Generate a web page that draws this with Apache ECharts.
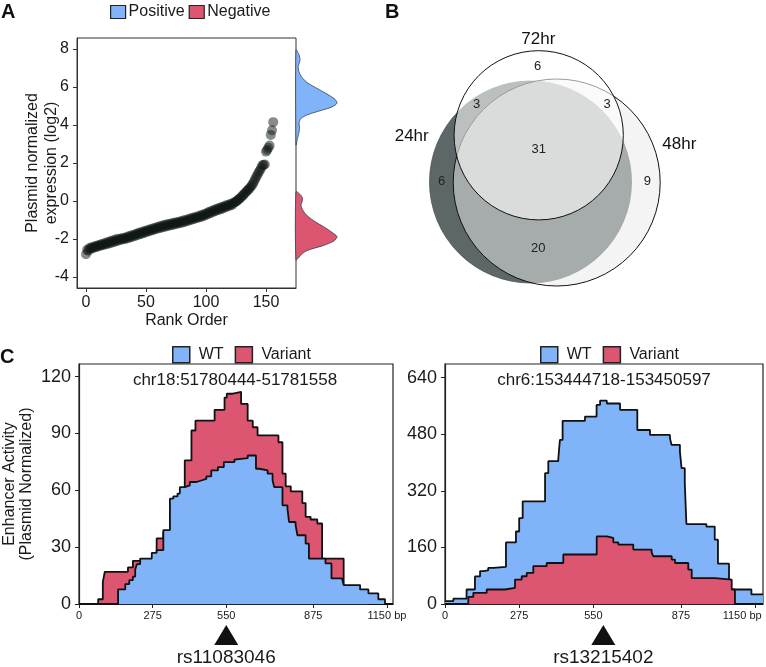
<!DOCTYPE html>
<html><head><meta charset="utf-8">
<script src="https://cdn.jsdelivr.net/npm/echarts@6/dist/echarts.min.js"></script>
<style>html,body{margin:0;padding:0;background:#fff}#c{width:766px;height:667px}</style>
</head><body><div id="c"></div>
<script>
// ---------- DATA ----------
// Panel A: plasmid-normalized expression (log2), in rank order
const rankValues = [
-2.80,-2.56,-2.62,-2.48,-2.52,-2.43,-2.47,-2.39,-2.44,-2.35,
-2.40,-2.31,-2.36,-2.27,-2.33,-2.24,-2.29,-2.19,-2.26,-2.15,
-2.22,-2.11,-2.18,-2.06,-2.14,-2.02,-2.10,-2.00,-2.06,-1.97,
-2.03,-1.95,-2.01,-1.92,-1.97,-1.87,-1.94,-1.83,-1.90,-1.79,
-1.86,-1.75,-1.82,-1.70,-1.77,-1.66,-1.73,-1.62,-1.69,-1.58,
-1.65,-1.54,-1.61,-1.50,-1.57,-1.46,-1.53,-1.42,-1.49,-1.38,
-1.45,-1.34,-1.42,-1.30,-1.38,-1.27,-1.35,-1.24,-1.32,-1.21,
-1.29,-1.18,-1.26,-1.15,-1.23,-1.13,-1.20,-1.10,-1.17,-1.06,
-1.14,-1.03,-1.11,-1.00,-1.07,-0.96,-1.03,-0.92,-0.99,-0.88,
-0.95,-0.85,-0.91,-0.81,-0.87,-0.77,-0.84,-0.73,-0.79,-0.68,
-0.74,-0.62,-0.68,-0.56,-0.63,-0.51,-0.58,-0.46,-0.53,-0.41,
-0.48,-0.37,-0.44,-0.32,-0.39,-0.28,-0.34,-0.23,-0.29,-0.19,
-0.25,-0.15,-0.20,-0.09,-0.07,-0.04,0.02,0.08,0.12,0.18,
0.25,0.31,0.38,0.45,0.52,0.58,0.65,0.72,0.80,0.90,
1.02,1.15,1.28,1.40,1.52,1.62,1.75,1.88,1.90,1.92,
2.60,2.68,2.80,2.92,3.48,3.72,4.15];
const rankTicks = [0, 50, 100, 150];
const exprTicks = [-4, -2, 0, 2, 4, 6, 8];
// marginal densities: [expression, density]
const densityPositive = [[7.95,0],[7.7,3],[7.4,4],[7.1,2.2],[6.8,3],[6.5,6],[6.2,12],[5.9,22],[5.6,32],[5.35,39],[5.15,41],[4.95,36],[4.75,24],[4.55,12],[4.35,5],[4.1,3],[3.9,3.5],[3.6,3],[3.3,1.5],[2.95,0]];
const densityNegative = [[0.49,0],[0.35,4],[0.15,6.5],[-0.05,6],[-0.2,5],[-0.4,6],[-0.65,9],[-0.9,14],[-1.15,21],[-1.4,29],[-1.65,36],[-1.88,41],[-2.1,38],[-2.35,27],[-2.55,14],[-2.7,8],[-2.9,4],[-3.1,0]];

// Panel B: Venn
const vennSets = ['24hr', '48hr', '72hr'];
const vennRegions = ['72hr only', '24hr & 72hr', '48hr & 72hr', '24hr & 48hr & 72hr', '24hr only', '48hr only', '24hr & 48hr'];
const vennCounts = [6, 3, 3, 31, 6, 9, 20];

// Panel C: enhancer activity tracks [bp, value] (step)
const bpTicks = [0, 275, 550, 875, 1150];
const activityTicksLeft = [0, 30, 60, 90, 120];
const activityTicksRight = [0, 160, 320, 480, 640];
const regionNames = ['chr18:51780444-51781558', 'chr6:153444718-153450597'];
const snpPositions = [550, 587];
const snpNames = ['rs11083046', 'rs13215402'];
const wtLeft = [[0,0],[146,7.7],[172.8,10.5],[187.7,12.6],[201.3,14.4],[209.9,18.2],[216.2,21],[228.4,24],[271.8,27],[290,28.4],[315,39],[339.6,55.6],[352,56.8],[368,58.3],[376.7,61.7],[395,62.6],[413.8,64.4],[438.6,65.2],[457,66],[475.7,67.4],[494,70.5],[519,72.3],[541,74.9],[580.6,76.2],[587,77],[630.3,78.4],[661,71.4],[673,70.5],[704.5,68.8],[723,65.3],[729,61.7],[760,52.1],[778.6,50.4],[784.6,43.3],[809,41.6],[815.7,36.3],[846.5,31.9],[858.7,24],[920.7,21.4],[943,13.5],[982.6,12.6],[988.5,10],[1050,7.7],[1081,5.6],[1118,2.5],[1143,0],[1172,0]];
const variantLeft = [[0,0],[71.6,2.5],[89,11.7],[96.4,17],[182.8,19.3],[201.3,22.8],[228,23],[290,34.6],[315,38],[339.6,55],[395,75.8],[420,91.6],[435,96.8],[506.5,102.5],[543.6,109],[552,111],[575,112],[605.5,105.6],[630,96.8],[649,93.3],[667,89],[745,85.4],[760,68.8],[772,62.1],[791,59.5],[834,53.3],[846.5,46],[865,44.6],[890,42.5],[908,24],[988.5,8],[1050,5],[1080,0],[1172,0]];
const wtRight = [[0,8],[31,15],[80,41],[111,78],[130,93],[142,95],[160,102],[179,105],[226,174],[263,205],[275,243],[288,290],[371,370],[383,404],[420,410],[426,464],[436,518],[519,530],[562,563],[575,575],[600,567],[649,549],[713,492],[760,478],[834,469],[840,450],[871,431],[877,384],[889,342],[895,226],[969,219],[1000,182],[1012,114],[1053,41],[1136,27],[1179,27]];
const variantRight = [[0,0],[86.4,20],[105,31.6],[154.6,41],[222.5,45.7],[259.5,69],[284.4,78.5],[303,88],[327.4,107],[377,116],[438.6,140],[562.5,191],[600,187],[624,174],[642.6,168],[698,154],[766,146],[772,135],[840.6,125.6],[852.8,116],[902,97],[914.7,73],[1001,69],[1063,41],[1075,0],[1179,0]];

// ---------- LAYOUT / STYLE ----------
const FONT = 'Liberation Sans, Arial, Helvetica, sans-serif';
const BLUE = '#80b3f7', RED = '#dc5571', INK = '#1a1a1a';
// Venn geometry in a 396x310 local frame
const vennLayout = {
  circles: [[160.5, 182, 101], [186.7, 182.5, 103.5], [168.7, 135.3, 84.6]],
  styles: [
    {fill: '#5d6767', stroke: '#4d5656', lineWidth: 0.8},
    {fill: 'rgba(233,234,234,0.52)', stroke: '#111', lineWidth: 1},
    {fill: 'rgba(255,255,255,0.58)', stroke: '#111', lineWidth: 1}
  ],
  countPos: [[167.7, 66.7], [106.7, 104.3], [237, 104.3], [168.7, 149.3], [71.7, 181.7], [277.3, 181.7], [168.3, 248.3]],
  setLabelPos: [[41.7, 136.7], [309.3, 144], [168.3, 39.3]]
};

const chart = echarts.init(document.getElementById('c'), null, {renderer: 'canvas'});

function hiddenAxis(gi, min, max, inverse) {
  return {type: 'value', gridIndex: gi, min, max, inverse: !!inverse, show: false, splitLine: {show: false}};
}
function stepSeries(name, data, ai, fill, z, extra) {
  return Object.assign({
    type: 'line', name, xAxisIndex: ai, yAxisIndex: ai, data, step: 'end',
    symbol: 'none', showSymbol: false, animation: false, clip: false, z,
    lineStyle: {color: '#111', width: 1.8},
    areaStyle: {color: fill, opacity: 1},
    itemStyle: {color: fill}
  }, extra || {});
}
function snpMark(i) {
  return {
    symbol: 'none',
    data: [{
      coord: [snpPositions[i], 0], symbol: 'triangle', symbolSize: [24, 20], symbolOffset: [0, 31],
      itemStyle: {color: '#111'},
      label: {show: true, position: 'bottom', distance: 3, formatter: snpNames[i], fontSize: 19, color: INK, fontFamily: FONT}
    }]
  };
}
const cXAxisCommon = {
  type: 'value', min: 0, splitLine: {show: false},
  axisLine: {onZero: false, lineStyle: {color: '#222', width: 1.2}},
  axisTick: {customValues: bpTicks, length: 4, lineStyle: {color: '#222'}},
};
function densityPolygon(arr, fill) {
  return function (params, api) {
    const pts = arr.map(d => api.coord([d[1], d[0]]));
    return {type: 'polygon', shape: {points: pts, smooth: 0.25}, style: {fill, stroke: '#3a4150', lineWidth: 0.8}};
  };
}

const option = {
  animation: false,
  textStyle: {fontFamily: FONT},
  legend: [
    {left: 110, top: 4, padding: 0, itemGap: 4, itemWidth: 15, itemHeight: 13, icon: 'rect',
     textStyle: {fontSize: 16, color: INK, fontFamily: FONT, padding: [0, 0, 0, -2]},
     data: [{name: 'Positive', itemStyle: {color: BLUE, borderColor: '#222', borderWidth: 1.2}},
            {name: 'Negative', itemStyle: {color: RED, borderColor: '#222', borderWidth: 1.2}}], selectedMode: false},
    {left: 172, top: 346, padding: 0, itemGap: 11, itemWidth: 17, itemHeight: 16, icon: 'rect',
     textStyle: {fontSize: 16, color: INK, fontFamily: FONT, padding: [0, 0, 0, 4]},
     data: [{name: 'WT', itemStyle: {color: BLUE, borderColor: '#222', borderWidth: 1.5}},
            {name: 'Variant', itemStyle: {color: RED, borderColor: '#222', borderWidth: 1.5}}], selectedMode: false},
    {left: 540, top: 346, padding: 0, itemGap: 11, itemWidth: 17, itemHeight: 16, icon: 'rect',
     textStyle: {fontSize: 16, color: INK, fontFamily: FONT, padding: [0, 0, 0, 4]},
     data: [{name: 'WT', itemStyle: {color: BLUE, borderColor: '#222', borderWidth: 1.5}},
            {name: 'Variant', itemStyle: {color: RED, borderColor: '#222', borderWidth: 1.5}}], selectedMode: false}
  ],
  grid: [
    {left: 77, top: 38, width: 219, height: 250, show: true, borderColor: '#333', borderWidth: 1, backgroundColor: '#fff'},
    {left: 296, top: 38, width: 50, height: 250},
    {left: 370, top: 0, width: 396, height: 310},
    {left: 77, top: 364, width: 316, height: 240, show: true, borderColor: '#222', borderWidth: 1.2},
    {left: 445, top: 364, width: 318, height: 240, show: true, borderColor: '#222', borderWidth: 1.2}
  ],
  xAxis: [
    {type: 'value', gridIndex: 0, min: -7.5, max: 175, splitLine: {show: false},
     name: 'Rank Order', nameLocation: 'middle', nameGap: 25, nameTextStyle: {fontSize: 16, color: INK},
     axisLine: {onZero: false, lineStyle: {color: '#333'}},
     axisTick: {customValues: rankTicks, length: 4, lineStyle: {color: '#333'}},
     axisLabel: {customValues: rankTicks, fontSize: 16, color: INK, margin: 7}},
    hiddenAxis(1, 0, 50),
    hiddenAxis(2, 0, 396),
    Object.assign({}, cXAxisCommon, {gridIndex: 3, max: 1172.8,
      axisLabel: {customValues: bpTicks, fontSize: 11, color: INK, margin: 6, formatter: v => v === 1150 ? '1150 bp' : String(v)}}),
    Object.assign({}, cXAxisCommon, {gridIndex: 4, max: 1179,
      axisLabel: {customValues: bpTicks, fontSize: 11, color: INK, margin: 6,
        formatter: v => v === 1150 ? '{r|1150 bp}' : String(v),
        rich: {r: {fontSize: 11, color: INK, padding: [0, 26, 0, 0]}}}})
  ],
  yAxis: [
    {type: 'value', gridIndex: 0, min: -4.58, max: 8.58, splitLine: {show: false},
     name: 'Plasmid normalized\nexpression (log2)', nameLocation: 'middle', nameGap: 16, nameRotate: 90,
     nameMoveOverlap: false,
     nameTextStyle: {fontSize: 16, color: INK, lineHeight: 19},
     axisLine: {onZero: false, lineStyle: {color: '#333'}},
     axisTick: {customValues: exprTicks, length: 4, lineStyle: {color: '#333'}},
     axisLabel: {customValues: exprTicks, fontSize: 16, color: INK, margin: 8}},
    hiddenAxis(1, -4.58, 8.58),
    hiddenAxis(2, 0, 310, true),
    {type: 'value', gridIndex: 3, min: 0, max: 126.7, splitLine: {show: false},
     name: 'Enhancer Activity\n(Plasmid Normalized)', nameLocation: 'middle', nameGap: 44, nameRotate: 90,
     nameTextStyle: {fontSize: 16, color: INK, lineHeight: 17},
     axisLine: {onZero: false, lineStyle: {color: '#222', width: 1.2}},
     axisTick: {customValues: activityTicksLeft, length: 4, lineStyle: {color: '#222'}},
     axisLabel: {customValues: activityTicksLeft, fontSize: 18, color: INK, margin: 8}},
    {type: 'value', gridIndex: 4, min: 0, max: 678.7, splitLine: {show: false},
     axisLine: {onZero: false, lineStyle: {color: '#222', width: 1.2}},
     axisTick: {customValues: activityTicksRight, length: 4, lineStyle: {color: '#222'}},
     axisLabel: {customValues: activityTicksRight, fontSize: 18, color: INK, margin: 8}}
  ],
  graphic: [
    {type: 'text', left: 1, top: 2, style: {text: 'A', font: 'bold 20px ' + FONT, fill: '#111'}},
    {type: 'text', left: 385, top: 2, style: {text: 'B', font: 'bold 20px ' + FONT, fill: '#111'}},
    {type: 'text', left: 0, top: 347, style: {text: 'C', font: 'bold 20px ' + FONT, fill: '#111'}},
    {type: 'text', x: 235, y: 380, style: {text: regionNames[0], font: '17px ' + FONT, fill: INK, textAlign: 'center', textVerticalAlign: 'middle'}, z: 10},
    {type: 'text', x: 604, y: 380, style: {text: regionNames[1], font: '17px ' + FONT, fill: INK, textAlign: 'center', textVerticalAlign: 'middle'}, z: 10}
  ],
  series: [
    // Panel A scatter
    {type: 'scatter', xAxisIndex: 0, yAxisIndex: 0, symbolSize: 10, animation: false,
     itemStyle: {color: '#0f1814', opacity: 0.5},
     data: rankValues.map((v, i) => [i, v])},
    // Panel A marginal densities
    {type: 'custom', name: 'Positive', xAxisIndex: 1, yAxisIndex: 1, data: [[0, 0]], itemStyle: {color: BLUE},
     renderItem: densityPolygon(densityPositive, BLUE), silent: true, animation: false},
    {type: 'custom', name: 'Negative', xAxisIndex: 1, yAxisIndex: 1, data: [[0, 0]], itemStyle: {color: RED},
     renderItem: densityPolygon(densityNegative, RED), silent: true, animation: false},
    // Panel B Venn circles
    {type: 'custom', xAxisIndex: 2, yAxisIndex: 2, silent: true, animation: false,
     data: vennSets.map((s, i) => ({name: s, value: [i, 0]})),
     renderItem: function (params, api) {
       const c = vennLayout.circles[params.dataIndex];
       const p = api.coord([c[0], c[1]]);
       const r = api.size([c[2], c[2]])[0];
       return {type: 'circle', shape: {cx: p[0], cy: p[1], r}, style: vennLayout.styles[params.dataIndex]};
     }},
    // Venn region counts
    {type: 'custom', xAxisIndex: 2, yAxisIndex: 2, silent: true, animation: false, z: 5,
     data: vennCounts.map((v, i) => ({name: vennRegions[i], value: [i, v]})),
     renderItem: function (params, api) {
       const p = api.coord(vennLayout.countPos[params.dataIndex]);
       return {type: 'text', x: p[0], y: p[1], style: {text: String(vennCounts[params.dataIndex]), font: '13px ' + FONT, fill: '#222', textAlign: 'center', textVerticalAlign: 'middle'}};
     }},
    // Venn set labels
    {type: 'custom', xAxisIndex: 2, yAxisIndex: 2, silent: true, animation: false, z: 5,
     data: vennSets.map((s, i) => ({name: s, value: [i, 0]})),
     renderItem: function (params, api) {
       const p = api.coord(vennLayout.setLabelPos[params.dataIndex]);
       return {type: 'text', x: p[0], y: p[1], style: {text: vennSets[params.dataIndex], font: '17px ' + FONT, fill: '#111', textAlign: 'center', textVerticalAlign: 'middle'}};
     }},
    // Panel C left: variant behind WT
    stepSeries('Variant', variantLeft, 3, RED, 2),
    stepSeries('WT', wtLeft, 3, BLUE, 3, {markPoint: snpMark(0)}),
    // Panel C right: WT behind variant
    stepSeries('WT', wtRight, 4, BLUE, 2),
    stepSeries('Variant', variantRight, 4, RED, 3, {markPoint: snpMark(1)})
  ]
};
chart.setOption(option);
</script>
</body></html>
